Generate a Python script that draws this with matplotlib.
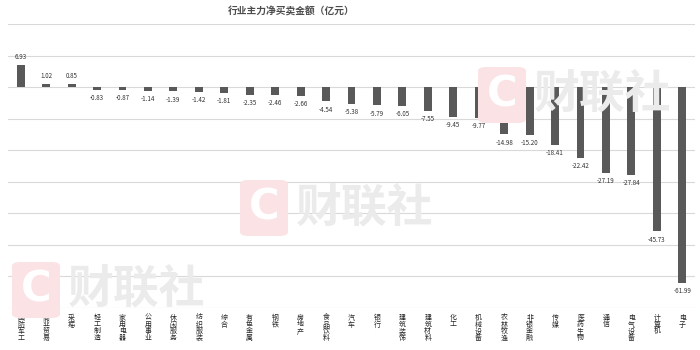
import matplotlib
matplotlib.use("Agg")
import matplotlib.pyplot as plt
from matplotlib.patches import FancyBboxPatch

plt.rcParams['font.family'] = ['Noto Sans CJK SC', 'DejaVu Sans']

categories = ["国防军工", "商业贸易", "采掘", "轻工制造", "家用电器", "公用事业", "休闲服务",
              "纺织服装", "综合", "有色金属", "钢铁", "房地产", "食品饮料", "汽车", "银行",
              "建筑装饰", "建筑材料", "化工", "机械设备", "农林牧渔", "非银金融", "传媒",
              "医药生物", "通信", "电气设备", "计算机", "电子"]
values = [6.93, 1.02, 0.85, -0.83, -0.87, -1.14, -1.39, -1.42, -1.81, -2.35, -2.46, -2.66,
          -4.54, -5.38, -5.79, -6.05, -7.55, -9.45, -9.77, -14.98, -15.20, -18.41, -22.42,
          -27.19, -27.84, -45.73, -61.99]
title = "行业主力净买卖金额（亿元）"

fig = plt.figure(figsize=(7, 3.5), dpi=100)

# watermarks (figure pixels, top-left corner given)
def watermark(x0, y0):
    W, H = 700.0, 350.0
    box = FancyBboxPatch((x0 / W, 1 - (y0 + 56) / H), 48 / W, 56 / H,
                         boxstyle="round,pad=0,rounding_size=0.012",
                         transform=fig.transFigure, facecolor="#fbe3e5",
                         edgecolor="none", zorder=0)
    fig.patches.append(box)
    fig.text((x0 + 24) / W, 1 - (y0 + 28) / H, "C", color="white", fontsize=30,
             fontweight="bold", ha="center", va="center", zorder=0.5, family="DejaVu Sans")
    fig.text((x0 + 56) / W, 1 - (y0 + 29) / H, "财联社", color="#ebebeb", fontsize=33,
             fontweight="bold", ha="left", va="center", zorder=0.5)

watermark(478, 67)
watermark(240, 180)
watermark(12, 262)

ax = fig.add_axes([8 / 700, 1 - 308 / 350, 687 / 700, 284 / 350])
ax.set_facecolor("none")
x = list(range(len(categories)))
ax.bar(x, values, width=0.31, color="#595959", zorder=3)

ax.set_xlim(-0.5, len(categories) - 0.5)
ax.set_ylim(-70, 20)
ax.set_yticks(range(-70, 21, 10))
ax.yaxis.grid(True, color="#d9d9d9", linewidth=0.8)
ax.set_axisbelow(True)
ax.tick_params(left=False, bottom=False, labelleft=False, labelbottom=False)
for s in ax.spines.values():
    s.set_visible(False)

for i, v in enumerate(values):
    if v >= 0:
        ax.annotate(f"{v:.2f}", (i, v), xytext=(0, 3), textcoords="offset points",
                    ha="center", va="bottom", fontsize=4.5, color="#333333")
    else:
        ax.annotate(f"{v:.2f}", (i, v), xytext=(0, -3), textcoords="offset points",
                    ha="center", va="top", fontsize=4.5, color="#333333")

# vertical category labels: one character per row
for i, c in enumerate(categories):
    for k, ch in enumerate(c):
        ax.annotate(ch, (i, -70), xytext=(0, -4 - k * 5.0), textcoords="offset points",
                    ha="center", va="top", fontsize=5, color="#262626")

fig.text(291 / 700, 1 - 11 / 350, title, ha="center", va="center", fontsize=7,
         fontweight="bold", color="#4d4d4d")

fig.savefig("out.png", dpi=100)
